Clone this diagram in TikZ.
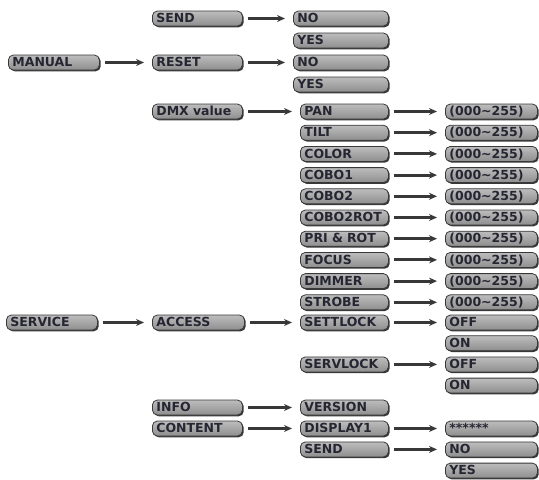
\documentclass[tikz,border=0pt]{standalone}
\usepackage{fontspec}
\setsansfont{DejaVu Sans}
\usetikzlibrary{arrows.meta,shadows}

\definecolor{boxtop}{HTML}{BDBDBD}
\definecolor{boxfill}{HTML}{8E8E8E}
\definecolor{boxedge}{HTML}{383838}
\definecolor{labelink}{HTML}{262633}
\newcommand\valrange{(000\textasciitilde255)}

\tikzset{
  menubox/.style={draw=boxedge, top color=boxtop, bottom color=boxfill,
    rounded corners=5pt, line width=0.8pt,
    text width=#1, inner xsep=4pt, inner ysep=0pt, minimum height=15pt,
    text height=9pt, text depth=0.5pt, anchor=west, text=labelink,
    font=\sffamily\bfseries\fontsize{12.5}{12.5}\selectfont,
    drop shadow={shadow xshift=1.3pt, shadow yshift=-1.3pt, fill=boxedge, opacity=1}},
  menubox/.default=80pt,
  flow/.style={-{Stealth[length=8pt,width=7pt]}, line width=3pt, draw=boxedge,
    shorten <=5pt, shorten >=8pt}
}

\begin{document}
\begin{tikzpicture}[x=1pt, y=-1pt]
  \useasboundingbox (0,0) rectangle (539,480);
  % columns: 8 / 152 / 300 / 445, rows 21.2 apart from PAN down
  \node[menubox=83pt] (manual) at (8,62.5) {MANUAL};
  \node[menubox=83pt] (service) at (6,322.5) {SERVICE};

  \node[menubox=82pt] (send) at (152,18.5) {SEND};
  \node[menubox=82pt] (reset) at (152,62.5) {RESET};
  \node[menubox=82pt] (dmx) at (152,111.5) {DMX value};
  \node[menubox=84pt] (access) at (152,322.5) {ACCESS};
  \node[menubox=82pt] (info) at (152,407.5) {INFO};
  \node[menubox=82pt] (content) at (152,428.5) {CONTENT};

  % send / reset answers
  \node[menubox=87pt] (sendno) at (293,18.5) {NO};
  \node[menubox=87pt] (sendyes) at (293,40.5) {YES};
  \node[menubox=87pt] (resetno) at (293,62.5) {NO};
  \node[menubox=87pt] (resetyes) at (293,84.5) {YES};

  % DMX channels and their ranges
  \foreach \lab [count=\i from 0] in {PAN, TILT, COLOR, COBO1, COBO2, COBO2ROT,
      PRI \& ROT, FOCUS, DIMMER, STROBE} {
    \node[menubox] (ch\i) at (300,{111.5+21.2*\i}) {\lab};
    \node[menubox=84pt] (val\i) at (445,{111.5+21.2*\i}) {\valrange};
    \draw[flow] (ch\i) -- (val\i);
  }

  % access
  \node[menubox] (settlock) at (300,322.5) {SETTLOCK};
  \node[menubox] (servlock) at (300,364.4) {SERVLOCK};
  \node[menubox=84pt] (setoff) at (445,322.5) {OFF};
  \node[menubox=84pt] (seton) at (445,343.2) {ON};
  \node[menubox=84pt] (servoff) at (445,364.4) {OFF};
  \node[menubox=84pt] (servon) at (445,385.6) {ON};

  % info / content
  \node[menubox] (version) at (300,407.5) {VERSION};
  \node[menubox] (display) at (300,428.5) {DISPLAY1};
  \node[menubox] (csend) at (300,449.4) {SEND};
  \node[menubox=84pt] (stars) at (445,428.5) {******};
  \node[menubox=84pt] (csendno) at (445,449.4) {NO};
  \node[menubox=84pt] (csendyes) at (445,470.6) {YES};

  \draw[flow] (manual) -- (reset);
  \draw[flow] (send) -- (sendno);
  \draw[flow] (reset) -- (resetno);
  \draw[flow] (dmx) -- (ch0);
  \draw[flow] (service) -- (access);
  \draw[flow] (access) -- (settlock);
  \draw[flow] (settlock) -- (setoff);
  \draw[flow] (servlock) -- (servoff);
  \draw[flow] (info) -- (version);
  \draw[flow] (content) -- (display);
  \draw[flow] (display) -- (stars);
  \draw[flow] (csend) -- (csendno);
\end{tikzpicture}
\end{document}
